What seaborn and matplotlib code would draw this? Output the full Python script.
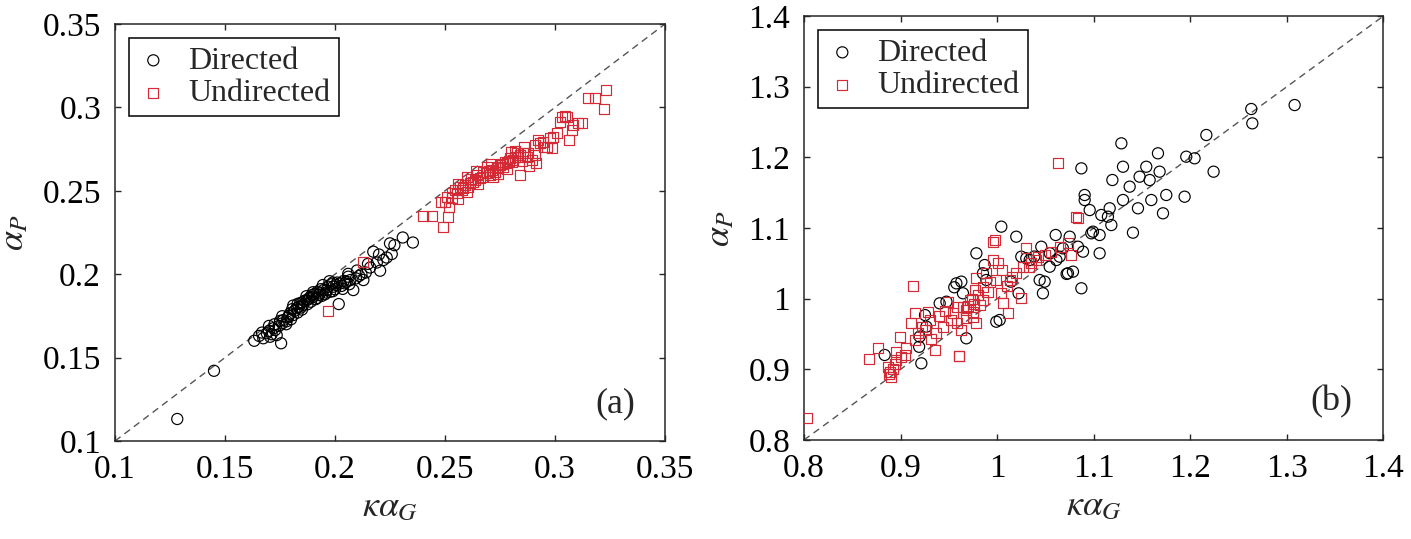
import numpy as np
import pandas as pd
import seaborn as sns
import matplotlib.pyplot as plt
from matplotlib import ticker

# panel (a) values
a_dir_x = [0.1283, 0.1450, 0.1633, 0.1655, 0.1674, 0.1690, 0.1700, 0.1712, 0.1720, 0.1735,
           0.1755, 0.1745, 0.1760, 0.1765, 0.1778, 0.1785, 0.1795, 0.1800, 0.1810, 0.1815,
           0.1826, 0.1830, 0.1841, 0.1845, 0.1855, 0.1860, 0.1871, 0.1875, 0.1885, 0.1890,
           0.1901, 0.1905, 0.1912, 0.1920, 0.1932, 0.1940, 0.1948, 0.1955, 0.1962, 0.1970,
           0.1978, 0.1985, 0.1992, 0.2000, 0.2010, 0.2017, 0.2023, 0.2030, 0.2040, 0.2053,
           0.2065, 0.2083, 0.2095, 0.2110, 0.2129, 0.2140, 0.2160, 0.2174, 0.2190, 0.2205,
           0.2220, 0.2235, 0.2250, 0.2258, 0.2270, 0.2308, 0.2354, 0.1668, 0.1728, 0.1790,
           0.1835, 0.1880, 0.1925, 0.1960, 0.2005, 0.2045, 0.1895, 0.1850, 0.1805, 0.1935,
           0.1990, 0.2070, 0.2120, 0.1750, 0.1700, 0.1705, 0.1780, 0.1850, 0.1920, 0.1990,
           0.2060, 0.1760, 0.1830, 0.1900, 0.1975, 0.2100, 0.2150, 0.2200, 0.2060, 0.1810,
           0.1870, 0.1945, 0.2035, 0.1725]
a_dir_y = [0.1132, 0.1421, 0.1601, 0.1630, 0.1616, 0.1646, 0.1660, 0.1640, 0.1676, 0.1635,
           0.1586, 0.1690, 0.1705, 0.1725, 0.1700, 0.1740, 0.1765, 0.1730, 0.1755, 0.1780,
           0.1796, 0.1770, 0.1826, 0.1800, 0.1815, 0.1840, 0.1845, 0.1820, 0.1860, 0.1835,
           0.1865, 0.1880, 0.1850, 0.1895, 0.1885, 0.1870, 0.1905, 0.1880, 0.1905, 0.1925,
           0.1895, 0.1940, 0.1925, 0.1910, 0.1950, 0.1821, 0.1945, 0.1930, 0.1960, 0.1955,
           0.1940, 0.1905, 0.1975, 0.1990, 0.1965, 0.2010, 0.2040, 0.2135, 0.2070, 0.2021,
           0.2085, 0.2100, 0.2185, 0.2121, 0.2174, 0.2220, 0.2190, 0.1650, 0.1665, 0.1750,
           0.1805, 0.1850, 0.1875, 0.1890, 0.1935, 0.1945, 0.1875, 0.1830, 0.1790, 0.1910,
           0.1950, 0.1965, 0.2000, 0.1720, 0.1690, 0.1625, 0.1718, 0.1788, 0.1858, 0.1898,
           0.1985, 0.1748, 0.1822, 0.1892, 0.1958, 0.2022, 0.2062, 0.2118, 0.2002, 0.1812,
           0.1868, 0.1935, 0.1912, 0.1700]

a_und_x = [0.1967, 0.2129, 0.2401, 0.2440, 0.2492, 0.2515, 0.2500, 0.2508, 0.2530, 0.2553,
           0.2576, 0.2591, 0.2614, 0.2636, 0.2644, 0.2667, 0.2690, 0.2712, 0.2735, 0.2750,
           0.2773, 0.2795, 0.2818, 0.2841, 0.2871, 0.2841, 0.2914, 0.2909, 0.2909, 0.2924,
           0.2962, 0.2992, 0.3008, 0.3030, 0.3045, 0.3065, 0.3083, 0.3121, 0.3152, 0.3182,
           0.3232, 0.3223, 0.2583, 0.2606, 0.2629, 0.2659, 0.2674, 0.2705, 0.2727, 0.2742,
           0.2765, 0.2780, 0.2803, 0.2811, 0.2826, 0.2856, 0.2879, 0.2894, 0.2932, 0.2947,
           0.2977, 0.2985, 0.3023, 0.3053, 0.3076, 0.3106, 0.2530, 0.2545, 0.2568, 0.2620,
           0.2700, 0.2760, 0.2830, 0.2690, 0.2790, 0.2560, 0.2600, 0.2650, 0.2720, 0.2780,
           0.2640, 0.2710, 0.2800, 0.2860, 0.2950, 0.2880, 0.2600, 0.2560, 0.2480, 0.2520,
           0.2850, 0.2740, 0.2820]
a_und_y = [0.1781, 0.2075, 0.2349, 0.2349, 0.2285, 0.2345, 0.2435, 0.2465, 0.2485, 0.2485,
           0.2505, 0.2535, 0.2545, 0.2565, 0.2595, 0.2585, 0.2605, 0.2625, 0.2635, 0.2655,
           0.2675, 0.2695, 0.2705, 0.2715, 0.2705, 0.2595, 0.2665, 0.2715, 0.2775, 0.2805,
           0.2761, 0.2825, 0.2845, 0.2941, 0.2948, 0.2805, 0.2895, 0.2908, 0.3058, 0.3058,
           0.3104, 0.2990, 0.2515, 0.2525, 0.2555, 0.2575, 0.2615, 0.2595, 0.2615, 0.2645,
           0.2645, 0.2665, 0.2675, 0.2685, 0.2725, 0.2725, 0.2725, 0.2685, 0.2785, 0.2795,
           0.2815, 0.2755, 0.2915, 0.2945, 0.2865, 0.2905, 0.2455, 0.2505, 0.2525, 0.2570,
           0.2620, 0.2660, 0.2700, 0.2640, 0.2680, 0.2450, 0.2490, 0.2540, 0.2580, 0.2630,
           0.2620, 0.2660, 0.2730, 0.2760, 0.2760, 0.2650, 0.2580, 0.2540, 0.2430, 0.2400,
           0.2680, 0.2600, 0.2740]

# panel (b) values
b_dir_x = [0.8835, 0.9215, 0.9198, 0.9267, 0.9405, 0.9578, 0.9646, 0.9681, 0.9785, 0.9871,
           0.9888, 1.0026, 1.0043, 1.0198, 1.0250, 1.0337, 1.0457, 1.0474, 1.0492, 1.0606,
           1.0647, 1.0733, 1.0785, 1.0872, 1.0872, 1.0906, 1.0906, 1.0958, 1.0975, 1.1061,
           1.1061, 1.1078, 1.1165, 1.1182, 1.1193, 1.1286, 1.1303, 1.1303, 1.1372, 1.1406,
           1.1458, 1.1475, 1.1544, 1.1579, 1.1596, 1.1665, 1.1682, 1.1717, 1.1751, 1.1941,
           1.1958, 1.2044, 1.2166, 1.2241, 1.2631, 1.2642, 1.3080, 1.0440, 1.0544, 1.0613,
           1.0681, 1.0751, 1.0837, 1.0889, 1.0992, 1.1147, 0.9991, 0.9629, 0.9853, 1.0302,
           0.9253, 0.9192, 0.9475, 0.9556, 1.0222, 1.0141, 1.0384, 1.0545, 1.0719]
b_dir_y = [0.9203, 0.9085, 0.9462, 0.9604, 0.9934, 1.0217, 1.0076, 0.9439, 1.0642, 1.0476,
           1.0264, 0.9698, 1.1019, 1.0877, 1.0594, 1.0547, 1.0735, 1.0076, 1.0241, 1.0901,
           1.0594, 1.0359, 1.0382, 1.0147, 1.1844, 1.1467, 1.1396, 1.1254, 1.0925, 1.0642,
           1.0901, 1.1184, 1.1279, 1.1042, 1.1679, 1.2198, 1.1867, 1.1396, 1.1585, 1.0934,
           1.1279, 1.1726, 1.1867, 1.1679, 1.1396, 1.2057, 1.1797, 1.1208, 1.1467, 1.1443,
           1.2009, 1.1986, 1.2316, 1.1797, 1.2684, 1.2481, 1.2740, 1.0264, 1.0452, 1.0547,
           1.0712, 1.0877, 1.0735, 1.0665, 1.0948, 1.1160, 0.9674, 1.0241, 1.0359, 1.0571,
           0.9768, 0.9319, 0.9957, 1.0161, 1.0076, 1.0241, 1.0596, 1.0643, 1.0350]

b_und_x = [0.8028, 0.8673, 0.8766, 0.8870, 0.8905, 0.8890, 0.8956, 0.8991, 0.9042, 0.9112,
           0.9146, 0.9128, 0.9181, 0.9284, 0.9353, 0.9371, 0.9439, 0.9491, 0.9543, 0.9605,
           0.9629, 0.9681, 0.9715, 0.9750, 0.9767, 0.9785, 0.9819, 0.9853, 0.9957, 0.9974,
           0.9991, 1.0043, 1.0060, 1.0112, 1.0129, 1.0198, 1.0250, 1.0267, 1.0302, 1.0354,
           1.0422, 1.0492, 1.0561, 1.0647, 1.0733, 1.0768, 1.0820, 1.0837, 1.0630, 0.9957,
           0.9647, 0.9750, 0.9785, 0.9853, 0.9888, 0.9922, 1.0008, 0.8880, 0.8920, 0.8940,
           0.9000, 0.9060, 0.9220, 0.9300, 0.9400, 0.9580, 0.9700, 0.9740, 0.9800, 0.9580,
           0.9320, 0.9600, 1.0050, 1.0150, 1.0400, 0.9520, 0.9460, 0.9680, 0.9760, 0.9900,
           1.0100, 1.0330, 0.9150, 0.9250, 0.8950]
b_und_y = [0.8317, 0.9142, 0.9297, 0.9037, 0.8896, 0.8967, 0.9132, 0.9462, 0.9203, 0.9651,
           0.9792, 1.0179, 0.9509, 0.9816, 0.9274, 0.9509, 0.9604, 0.9957, 0.9792, 0.9193,
           0.9557, 0.9840, 0.9981, 0.9816, 1.0123, 1.0288, 0.9910, 0.9981, 1.0547, 1.0830,
           1.0264, 1.0076, 0.9934, 0.9792, 1.0264, 1.0359, 1.0005, 1.0452, 1.0712, 1.0500,
           1.0594, 1.0618, 1.0665, 1.0735, 1.0783, 1.0618, 1.1160, 1.1136, 1.1924, 1.0806,
           0.9887, 0.9745, 0.9650, 1.0170, 1.0358, 1.0240, 1.0500, 0.8930, 0.9000, 0.9080,
           0.9180, 0.9300, 0.9600, 0.9700, 0.9750, 0.9650, 0.9900, 1.0000, 1.0050, 0.9880,
           0.9430, 0.9190, 1.0400, 1.0300, 1.0550, 0.9700, 0.9820, 0.9730, 0.9930, 1.0100,
           1.0180, 1.0450, 0.9420, 0.9550, 0.9250]

panels = [
    dict(dir_x=a_dir_x, dir_y=a_dir_y, und_x=a_und_x, und_y=a_und_y,
         lim=(0.1, 0.35), ticks=np.arange(0.1, 0.351, 0.05), tag="(a)",
         rect=[0.0815, 0.1818, 0.3898, 0.7737]),
    dict(dir_x=b_dir_x, dir_y=b_dir_y, und_x=b_und_x, und_y=b_und_y,
         lim=(0.8, 1.4), ticks=np.arange(0.8, 1.401, 0.1), tag="(b)",
         rect=[0.5698, 0.1837, 0.4107, 0.7866]),
]

sns.set_theme(style="ticks")
plt.rcParams["font.family"] = ["Liberation Serif", "DejaVu Serif"]
plt.rcParams["mathtext.fontset"] = "stix"
plt.rcParams["axes.edgecolor"] = "#262626"
plt.rcParams["axes.linewidth"] = 1.1

RED = "#d42a35"

fig = plt.figure(figsize=(14.11, 5.39), dpi=100)

for p in panels:
    ax = fig.add_axes(p["rect"])
    ax.axline((p["lim"][0], p["lim"][0]), slope=1, color="#555555",
              lw=1.0, ls=(0, (5, 3.5)), zorder=1)

    d = pd.DataFrame({"x": p["dir_x"], "y": p["dir_y"]})
    u = pd.DataFrame({"x": p["und_x"], "y": p["und_y"]})
    sns.scatterplot(data=d, x="x", y="y", ax=ax, marker="o", s=64,
                    facecolor="none", edgecolor="black", linewidth=0.85,
                    label="Directed", zorder=3)
    sns.scatterplot(data=u, x="x", y="y", ax=ax, marker="s", s=52,
                    facecolor="none", edgecolor=RED, linewidth=0.85,
                    label="Undirected", zorder=3)

    ax.set_xlim(p["lim"])
    ax.set_ylim(p["lim"])
    ax.set_xticks(p["ticks"])
    ax.set_yticks(p["ticks"])
    ax.xaxis.set_major_formatter(ticker.FormatStrFormatter("%g"))
    ax.yaxis.set_major_formatter(ticker.FormatStrFormatter("%g"))
    ax.tick_params(direction="in", top=True, right=True, length=4.5,
                   width=1.0, labelsize=24, pad=10, colors="#262626",
                   labelcolor="black")
    ax.set_xlabel(r"$\kappa\alpha_G$", fontsize=26, labelpad=4)
    ax.set_ylabel(r"$\alpha_P$", fontsize=26, labelpad=8)

    leg = ax.legend(loc="upper left", fontsize=23, frameon=True, fancybox=False,
                    framealpha=1, edgecolor="black", borderaxespad=0.45,
                    handlelength=1.0, handletextpad=0.6, borderpad=0.25,
                    labelspacing=0.1)
    leg.get_frame().set_linewidth(1.1)

    ax.text(0.91, 0.09, p["tag"], transform=ax.transAxes, fontsize=26,
            ha="center", va="center")

fig.savefig("out.png", dpi=100)
